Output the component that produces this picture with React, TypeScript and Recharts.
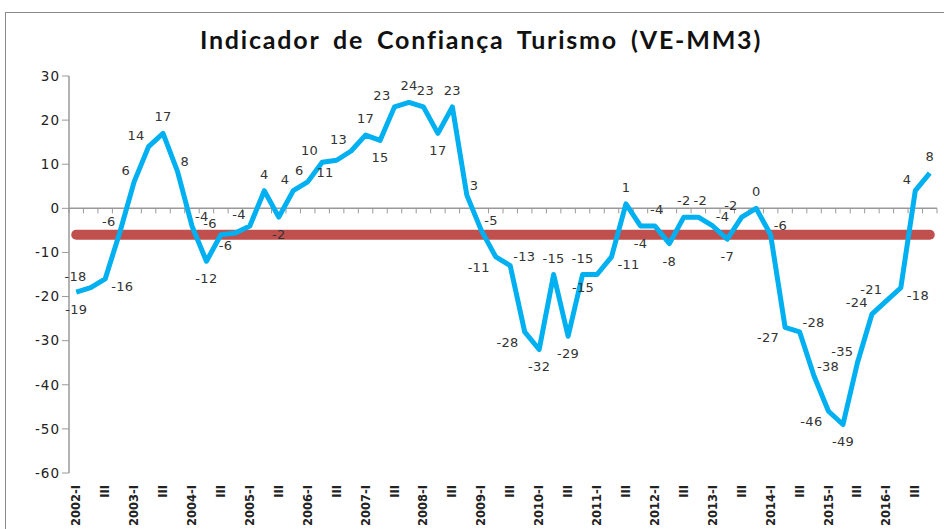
import React from "react";
import { LineChart, Line, XAxis, YAxis, ReferenceLine, LabelList } from "recharts";

const YEARS = [2002, 2003, 2004, 2005, 2006, 2007, 2008, 2009, 2010, 2011, 2012, 2013, 2014, 2015, 2016];
const QUARTERS = ["I", "II", "III", "IV"];
const CATEGORIES = YEARS.flatMap((y) => QUARTERS.map((q) => `${y}-${q}`));

// Indicador de Confiança Turismo, variação (VE-MM3)
const VALUES = [
  -19, -18, -16, -5.6,
  6, 14, 17, 8.4,
  -4, -12, -6, -5.6,
  -4, 4, -2, 4,
  6, 10.45, 10.9, 13,
  16.6, 15.4, 23, 24,
  23, 17, 23, 3,
  -5, -11, -13, -28,
  -32, -15, -29, -15,
  -15, -11, 1, -4,
  -4, -8, -2, -2,
  -4, -7, -2, 0,
  -6, -27, -28, -38,
  -46, -49, -35, -24,
  -21, -18, 4, 8,
];

const AVERAGE = -6;
const Y_TICKS = [30, 20, 10, 0, -10, -20, -30, -40, -50, -60];

const data = CATEGORIES.map((c, i) => ({ cat: c, v: VALUES[i] }));

const LABEL_FONT = "'DejaVu Sans', Verdana, sans-serif";
const PLOT_LEFT = 69;
const PLOT_RIGHT = 937;
const HALF_STEP = (PLOT_RIGHT - PLOT_LEFT) / CATEGORIES.length / 2;

function tickText(cat: string) {
  const [y, q] = cat.split("-");
  if (q === "I") return `${y}-I`;
  if (q === "III") return "III";
  return "";
}

function XTick(props: any) {
  const { x, y, payload } = props;
  const txt = tickText(payload.value);
  if (!txt) return null;
  return (
    <text
      x={0}
      y={0}
      transform={`translate(${x + 4},${y + 4}) rotate(-90)`}
      textAnchor="end"
      fontFamily={LABEL_FONT}
      fontWeight="bold"
      fontSize={11.5}
      fill="#222"
    >
      {txt}
    </text>
  );
}

function PointLabel(props: any) {
  const { x, y, index, value } = props;
  const prev = VALUES[index - 1];
  const next = VALUES[index + 1];
  let dIn = prev === undefined ? 0 : value - prev;
  let dOut = next === undefined ? 0 : next - value;
  if (prev === undefined) dIn = -dOut;
  if (next === undefined) dOut = -dIn;

  let dx = 0;
  let dy = -11;
  let anchor: "start" | "middle" | "end" = "middle";
  if (dIn > 0.5 && dOut <= 0) {
    dy = -12;
  } else if (dIn < 0 && dOut >= 0) {
    dy = 22;
  } else if (dOut > 0 && dIn < 0.5) {
    anchor = "end";
    dx = -3;
    dy = 17;
  } else if (dOut >= 10 && dOut >= 3 * dIn) {
    anchor = "start";
    dx = 6;
    dy = 12;
  } else if (dOut > 0) {
    anchor = "end";
    dx = -4;
    dy = -7;
  } else if (Math.abs(dIn) <= 1 && Math.abs(dOut) <= 6) {
    dx = 2;
    dy = -12;
  } else if (Math.abs(dIn) >= 2.6 * Math.abs(dOut)) {
    anchor = "end";
    dx = -6;
    dy = 15;
  } else {
    anchor = "start";
    dx = 3;
    dy = -5;
  }
  return (
    <text
      x={x + dx}
      y={y + dy}
      textAnchor={anchor}
      fontFamily={LABEL_FONT}
      fontSize={13}
      letterSpacing={0.3}
      fill="#333"
    >
      {Math.round(value)}
    </text>
  );
}

function ZeroAxis(props: any) {
  const { y1 } = props;
  const n = CATEGORIES.length;
  const step = (PLOT_RIGHT - PLOT_LEFT) / n;
  const ticks = Array.from({ length: n + 1 }, (_, i) => PLOT_LEFT + i * step);
  return (
    <g>
      <line x1={PLOT_LEFT} x2={PLOT_RIGHT} y1={y1} y2={y1} stroke="#999" strokeWidth={1.5} />
      {ticks.map((tx, i) => (
        <line key={i} x1={tx} x2={tx} y1={y1} y2={y1 + 5} stroke="#999" strokeWidth={1} />
      ))}
    </g>
  );
}

export default function App() {
  return (
    <div style={{ position: "absolute", left: 0, top: 0, width: 944, height: 529, overflow: "hidden", background: "#fff" }}>
      <div
        style={{
          position: "absolute",
          left: 5,
          top: 12,
          width: 1000,
          height: 600,
          border: "1.5px solid #8a8a8a",
        }}
      />
      <div
        style={{
          position: "absolute",
          left: 0,
          top: 24,
          width: 962,
          textAlign: "center",
          fontFamily: "Lato, 'Open Sans', sans-serif",
          fontWeight: "bold",
          fontSize: 25,
          letterSpacing: 1.8,
          wordSpacing: 5,
          color: "#111",
        }}
      >
        Indicador de Confiança Turismo (VE-MM3)
      </div>
      <div style={{ position: "absolute", left: 0, top: 0 }}>
        <LineChart width={944} height={529} data={data} margin={{ top: 76, right: 944 - PLOT_RIGHT, bottom: 6, left: PLOT_LEFT - 60 }}>
          <YAxis
            width={60}
            domain={[-60, 30]}
            ticks={Y_TICKS}
            interval={0}
            allowDataOverflow
            axisLine={{ stroke: "#999", strokeWidth: 1.5 }}
            tickLine={{ stroke: "#999" }}
            tickSize={7}
            tick={{ fontFamily: LABEL_FONT, fontSize: 13.5, fill: "#222", letterSpacing: 1 }}
          />
          <XAxis
            dataKey="cat"
            height={50}
            interval={0}
            padding={{ left: HALF_STEP, right: HALF_STEP }}
            axisLine={false}
            tickLine={false}
            tick={<XTick />}
          />
          <ReferenceLine y={0} shape={(p: any) => <ZeroAxis {...p} />} />
          <ReferenceLine
            segment={[
              { x: CATEGORIES[0], y: AVERAGE },
              { x: CATEGORIES[CATEGORIES.length - 1], y: AVERAGE },
            ]}
            stroke="#C0504D"
            strokeWidth={10}
            strokeLinecap="round"
          />
          <Line
            type="linear"
            dataKey="v"
            stroke="#00B0F0"
            strokeWidth={5}
            strokeLinejoin="round"
            dot={false}
            isAnimationActive={false}
          >
            <LabelList dataKey="v" content={<PointLabel />} />
          </Line>
        </LineChart>
      </div>
    </div>
  );
}
